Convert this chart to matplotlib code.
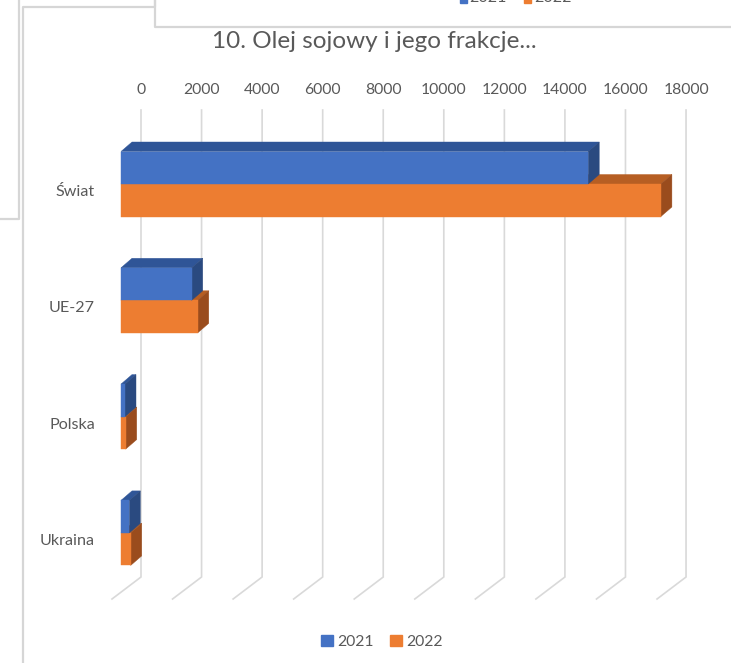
import matplotlib
matplotlib.use('Agg')
import matplotlib.pyplot as plt
from matplotlib.patches import Polygon, Rectangle, Patch

plt.rcParams['font.family'] = ['Lato', 'DejaVu Sans']

# dane
kraje = ['Świat', 'UE-27', 'Polska', 'Ukraina']
lata = ['2021', '2022']
v2021 = [15430, 2335, 132, 274]
v2022 = [17830, 2535, 155, 320]
ticks = [0, 2000, 4000, 6000, 8000, 10000, 12000, 14000, 16000, 18000]

W, H = 731, 663
fig = plt.figure(figsize=(W / 100, H / 100), dpi=100)
fig.patch.set_facecolor('white')

# tło: ramki sąsiednich wykresów w pikselach
bg = fig.add_axes([0, 0, 1, 1])
bg.set_xlim(0, W)
bg.set_ylim(H, 0)
bg.axis('off')
ramka = '#d6d6d6'
for xs, ys in [([0, 19, 19], [219, 219, 0]),
               ([23, 23, 155, 155], [H, 7, 7, 0]),
               ([155, 155, W], [0, 27, 27])]:
    bg.plot(xs, ys, color=ramka, lw=1.6, solid_capstyle='butt')
# fragment legendy wykresu powyżej (ucięty)
bg.add_patch(Rectangle((460, -6), 7, 9, color='#4472c4', clip_on=True))
bg.add_patch(Rectangle((524, -6), 7, 9, color='#ed7d31', clip_on=True))
bg.text(469, -2, '2021', fontsize=11.5, color='#595959', va='center')
bg.text(534, -2, '2022', fontsize=11.5, color='#595959', va='center')

# osie główne: x = wartość, y = indeks kategorii
ax = fig.add_axes([0, 0, 1, 1])
ax.patch.set_alpha(0)
ax.axis('off')
PXU = 60.56 / 2000          # piksele na jednostkę
X0 = 121                    # zero na przedniej płaszczyźnie
ROW = 116.3                 # odstęp kategorii
Y0 = 184
ax.set_xlim(-X0 / PXU, (W - X0) / PXU)
ax.set_ylim((H - Y0) / ROW, -Y0 / ROW)


def dx(px):
    return px / PXU


def dy(px):
    return px / ROW


BAR_H = 32.5 / ROW
BAR_DX, BAR_DY = dx(11), dy(-9.5)     # głębokość słupka
WALL_DX, WALL_DY = dx(20), dy(-15)    # tylna ściana względem przodu
FLOOR_DX, FLOOR_DY = dx(-29), dy(22)  # podłoga od ściany do przodu
grid_top = dy(110 - Y0)
grid_bot = dy(577 - Y0)

# siatka na tylnej ścianie i podłodze
for t in ticks:
    xb = t + WALL_DX
    ax.plot([xb, xb, xb + FLOOR_DX], [grid_top, grid_bot, grid_bot + FLOOR_DY],
            color='#d9d9d9', lw=1.2, zorder=1, solid_joinstyle='miter')
    ax.text(xb, dy(90 - Y0), f'{t}', ha='center', va='center',
            fontsize=11.3, color='#595959')

kolory = {
    '2021': ('#4472c4', '#2f5597', '#2a4a80'),
    '2022': ('#ed7d31', '#b65e23', '#9a4c1d'),
}


def slupek(y_top, val, key, z):
    front, top, side = kolory[key]
    y_bot = y_top + BAR_H
    ax.add_patch(Polygon([(0, y_top), (val, y_top), (val + BAR_DX, y_top + BAR_DY),
                          (BAR_DX, y_top + BAR_DY)], closed=True, fc=top, ec=top,
                         lw=0.3, zorder=z))
    ax.add_patch(Polygon([(val, y_top), (val, y_bot), (val + BAR_DX, y_bot + BAR_DY),
                          (val + BAR_DX, y_top + BAR_DY)], closed=True, fc=side, ec=side,
                         lw=0.3, zorder=z))
    ax.add_patch(Rectangle((0, y_top), val, BAR_H, fc=front, ec=front, lw=0.3, zorder=z + 0.5))


for i, kraj in enumerate(kraje):
    slupek(i, v2022[i], '2022', 3)
    slupek(i - BAR_H, v2021[i], '2021', 5)
    ax.text(dx(95 - X0), i + 0.07, kraj, ha='right', va='center',
            fontsize=11.6, color='#595959')

ax.text(dx(374 - X0), dy(42 - Y0), '10. Olej sojowy i jego frakcje...',
        ha='center', va='center', fontsize=17.5, color='#595959')

leg = ax.legend(handles=[Patch(color=kolory[k][0], label=k) for k in lata],
                loc='center', bbox_to_anchor=(382 / W, 1 - 642 / H), ncol=2,
                frameon=False, fontsize=11.3, handlelength=0.75, handleheight=0.75,
                handletextpad=0.3, columnspacing=1.0, labelcolor='#595959')

fig.savefig('out.png', dpi=100, facecolor='white')
